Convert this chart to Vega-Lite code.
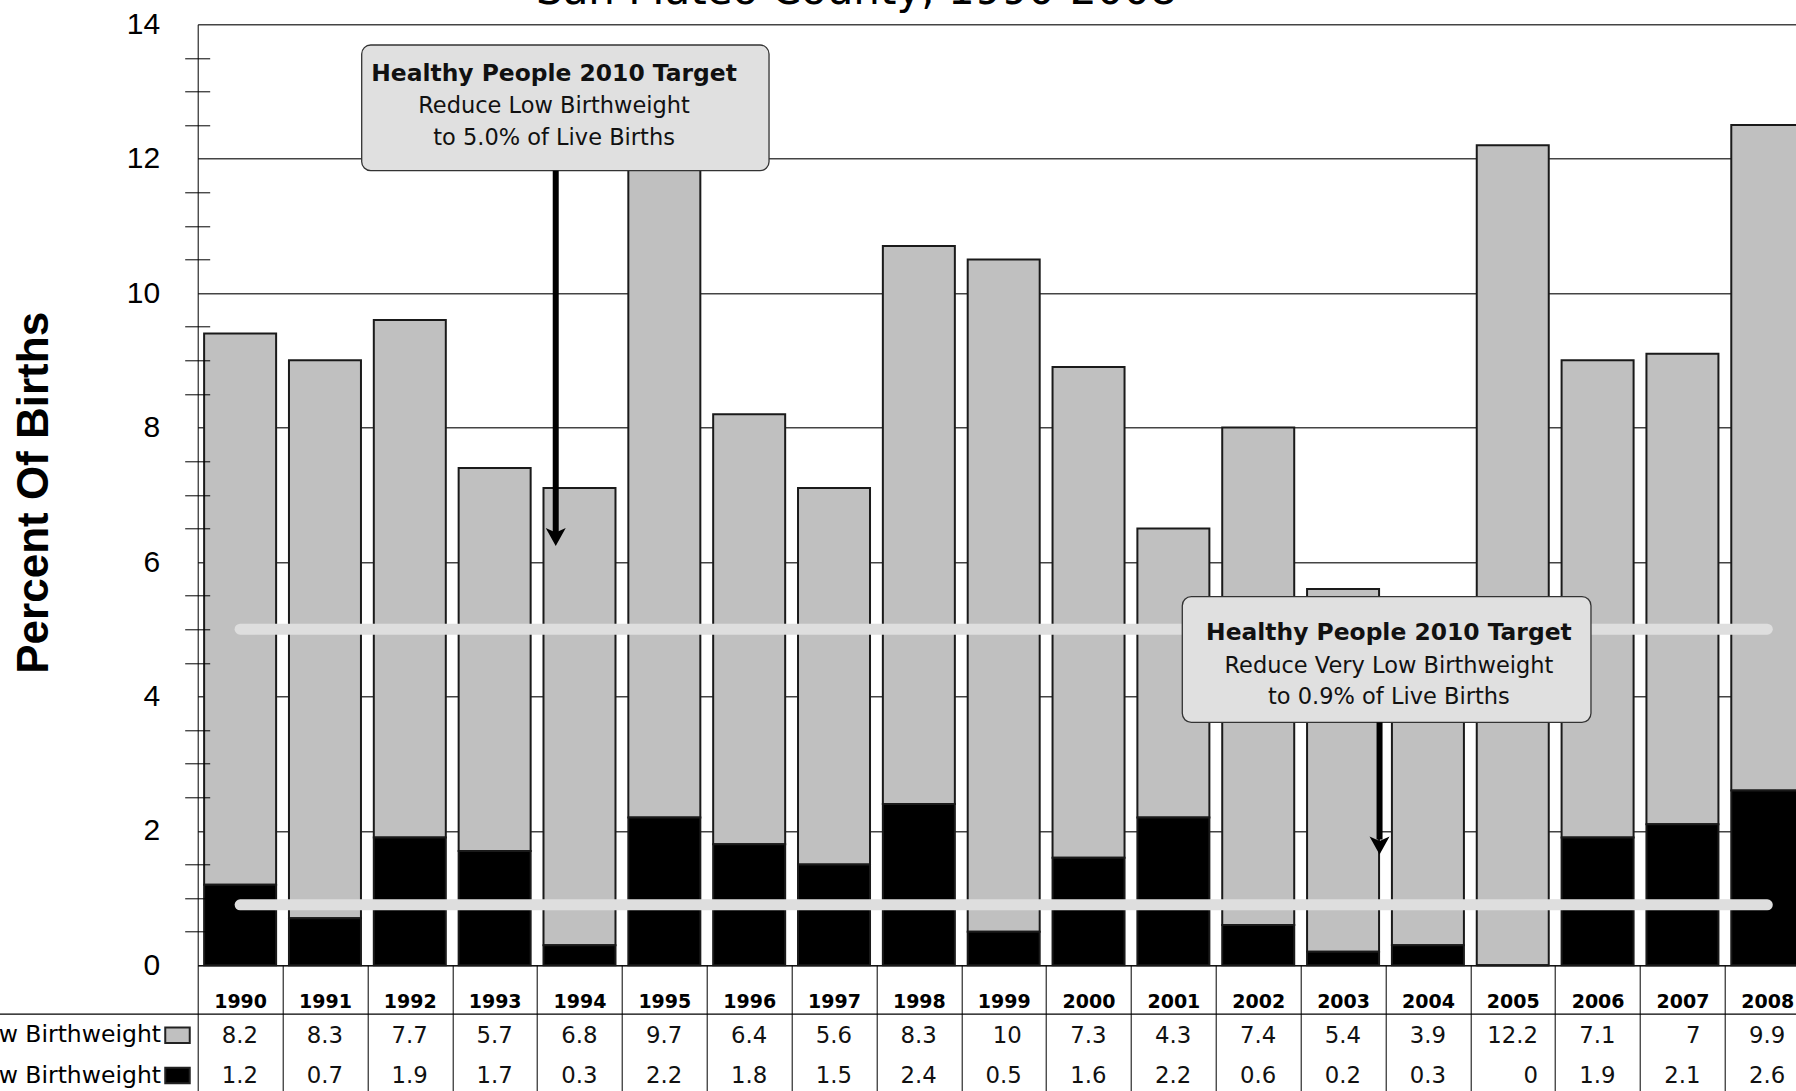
{
  "$schema": "https://vega.github.io/schema/vega-lite/v6.json",
  "autosize": {"type": "none"},
  "padding": {"left": 197.7, "top": 24.3, "right": -13.7, "bottom": 125.7},
  "width": 1612,
  "height": 941,
  "background": "white",
  "config": {"view": {"stroke": null}},
  "datasets": {
    "births": [
      {"year": 1990, "series": "Low Birthweight", "value": 8.2},
      {"year": 1990, "series": "Very Low Birthweight", "value": 1.2},
      {"year": 1991, "series": "Low Birthweight", "value": 8.3},
      {"year": 1991, "series": "Very Low Birthweight", "value": 0.7},
      {"year": 1992, "series": "Low Birthweight", "value": 7.7},
      {"year": 1992, "series": "Very Low Birthweight", "value": 1.9},
      {"year": 1993, "series": "Low Birthweight", "value": 5.7},
      {"year": 1993, "series": "Very Low Birthweight", "value": 1.7},
      {"year": 1994, "series": "Low Birthweight", "value": 6.8},
      {"year": 1994, "series": "Very Low Birthweight", "value": 0.3},
      {"year": 1995, "series": "Low Birthweight", "value": 9.7},
      {"year": 1995, "series": "Very Low Birthweight", "value": 2.2},
      {"year": 1996, "series": "Low Birthweight", "value": 6.4},
      {"year": 1996, "series": "Very Low Birthweight", "value": 1.8},
      {"year": 1997, "series": "Low Birthweight", "value": 5.6},
      {"year": 1997, "series": "Very Low Birthweight", "value": 1.5},
      {"year": 1998, "series": "Low Birthweight", "value": 8.3},
      {"year": 1998, "series": "Very Low Birthweight", "value": 2.4},
      {"year": 1999, "series": "Low Birthweight", "value": 10},
      {"year": 1999, "series": "Very Low Birthweight", "value": 0.5},
      {"year": 2000, "series": "Low Birthweight", "value": 7.3},
      {"year": 2000, "series": "Very Low Birthweight", "value": 1.6},
      {"year": 2001, "series": "Low Birthweight", "value": 4.3},
      {"year": 2001, "series": "Very Low Birthweight", "value": 2.2},
      {"year": 2002, "series": "Low Birthweight", "value": 7.4},
      {"year": 2002, "series": "Very Low Birthweight", "value": 0.6},
      {"year": 2003, "series": "Low Birthweight", "value": 5.4},
      {"year": 2003, "series": "Very Low Birthweight", "value": 0.2},
      {"year": 2004, "series": "Low Birthweight", "value": 3.9},
      {"year": 2004, "series": "Very Low Birthweight", "value": 0.3},
      {"year": 2005, "series": "Low Birthweight", "value": 12.2},
      {"year": 2005, "series": "Very Low Birthweight", "value": 0},
      {"year": 2006, "series": "Low Birthweight", "value": 7.1},
      {"year": 2006, "series": "Very Low Birthweight", "value": 1.9},
      {"year": 2007, "series": "Low Birthweight", "value": 7},
      {"year": 2007, "series": "Very Low Birthweight", "value": 2.1},
      {"year": 2008, "series": "Low Birthweight", "value": 9.9},
      {"year": 2008, "series": "Very Low Birthweight", "value": 2.6}
    ]
  },
  "data": {"name": "births"},
  "resolve": {"axis": {"x": "independent", "y": "independent"}},
  "layer": [
    {
      "mark": {"type": "bar", "width": 72, "stroke": "#1a1a1a", "strokeWidth": 2},
      "encoding": {
        "x": {
          "field": "year", "type": "quantitative",
          "scale": {"domain": [1989.5, 2008.5], "nice": false, "zero": false, "padding": 0},
          "axis": {
            "orient": "bottom", "title": null, "format": "d",
            "values": [1990,1991,1992,1993,1994,1995,1996,1997,1998,1999,2000,2001,2002,2003,2004,2005,2006,2007,2008],
            "ticks": false, "tickSize": 0, "grid": false,
            "domain": true, "domainColor": "#000", "domainWidth": 1,
            "labelFont": "DejaVu Sans", "labelFontWeight": "bold", "labelFontSize": 19, "labelColor": "#000",
            "labelBaseline": "alphabetic", "labelPadding": 42, "labelOverlap": false, "labelFlush": false
          }
        },
        "y": {
          "field": "value", "type": "quantitative", "stack": "zero",
          "scale": {"domain": [0, 14], "nice": false, "zero": true, "padding": 0},
          "axis": {
            "orient": "left", "values": [0,2,4,6,8,10,12,14],
            "title": "Percent Of Births", "titleFont": "Liberation Sans", "titleFontSize": 44, "titleFontWeight": "bold",
            "titleColor": "#000", "titleAngle": 270, "titleX": -150.7, "titleY": 468, "titleBaseline": "alphabetic", "titleAlign": "center",
            "ticks": false, "tickSize": 0,
            "labelFont": "Liberation Sans", "labelFontSize": 30, "labelColor": "#000", "labelPadding": 38, "labelFlush": false,
            "grid": true, "gridColor": "#444", "gridWidth": 1.4,
            "domain": true, "domainColor": "#000", "domainWidth": 1
          }
        },
        "color": {
          "field": "series", "type": "nominal",
          "scale": {"domain": ["Low Birthweight", "Very Low Birthweight"], "range": ["#c0c0c0", "#000000"]},
          "legend": {
            "title": null, "orient": "none", "legendX": -33.7, "legendY": 997.4, "direction": "vertical",
            "symbolType": "M-1,-0.63H1V0.63H-1Z", "symbolSize": 600, "symbolStrokeColor": "#222", "symbolStrokeWidth": 2, "symbolOpacity": 1,
            "labelFont": "DejaVu Sans", "labelFontSize": 23.5, "labelColor": "#000", "labelAlign": "right", "labelOffset": -30,
            "labelLimit": 1000, "rowPadding": 14.3, "padding": 0, "offset": 0
          }
        },
        "order": {"field": "series", "sort": "descending"}
      }
    },
    {
      "data": {"values": [{"target": 5.0}, {"target": 0.9}]},
      "mark": {"type": "rule", "strokeWidth": 11, "strokeCap": "round", "color": "#dedede"},
      "encoding": {
        "y": {
          "field": "target", "type": "quantitative",
          "axis": {
            "orient": "left", "title": null, "offset": -12,
            "values": [0.5,1,1.5,2.5,3,3.5,4.5,5,5.5,6.5,7,7.5,8.5,9,9.5,10.5,11,11.5,12.5,13,13.5],
            "ticks": true, "tickSize": 25, "tickColor": "#000", "tickWidth": 1,
            "labels": false, "domain": false, "grid": false, "zindex": 1
          }
        },
        "x": {
          "datum": 1990, "type": "quantitative",
          "axis": {
            "orient": "bottom", "title": null,
            "values": [1989.5,1990.5,1991.5,1992.5,1993.5,1994.5,1995.5,1996.5,1997.5,1998.5,1999.5,2000.5,2001.5,2002.5,2003.5,2004.5,2005.5,2006.5,2007.5,2008.5],
            "ticks": true, "tickSize": 140, "tickColor": "#000", "tickWidth": 1,
            "labels": false, "domain": false, "grid": false
          }
        },
        "x2": {"datum": 2008}
      }
    },
    {
      "data": {"values": [{}]},
      "mark": {"type": "text", "text": "San Mateo County, 1990-2008", "font": "DejaVu Sans", "fontSize": 42, "align": "left", "baseline": "alphabetic", "color": "#000"},
      "encoding": {
        "x": {"datum": 1993.487, "type": "quantitative", "axis": null},
        "y": {"datum": 14.295, "type": "quantitative", "axis": null}
      }
    },
    {
      "data": {"values": [{}]},
      "mark": {"type": "rect", "cornerRadius": 9, "fill": "#e0e0e0", "stroke": "#333", "strokeWidth": 1.3},
      "encoding": {
        "x": {"datum": 1991.433, "type": "quantitative", "axis": null},
        "x2": {"datum": 1996.234},
        "y": {"datum": 13.692, "type": "quantitative", "axis": null},
        "y2": {"datum": 11.822}
      }
    },
    {
      "data": {"values": [{}]},
      "mark": {"type": "rect", "cornerRadius": 9, "fill": "#e0e0e0", "stroke": "#333", "strokeWidth": 1.3},
      "encoding": {
        "x": {"datum": 2001.105, "type": "quantitative", "axis": null},
        "x2": {"datum": 2005.922},
        "y": {"datum": 5.484, "type": "quantitative", "axis": null},
        "y2": {"datum": 3.615}
      }
    },
    {
      "data": {"values": [{}]},
      "mark": {"type": "text", "text": "Healthy People 2010 Target", "font": "DejaVu Sans", "fontWeight": "bold", "fontSize": 23.4, "align": "center", "baseline": "alphabetic", "color": "#111"},
      "encoding": {
        "x": {"datum": 1993.70, "type": "quantitative", "axis": null},
        "y": {"datum": 13.149, "type": "quantitative", "axis": null}
      }
    },
    {
      "data": {"values": [{}]},
      "mark": {"type": "text", "text": ["Reduce Low Birthweight", "to 5.0% of Live Births"], "lineHeight": 32, "font": "DejaVu Sans", "fontSize": 22.5, "align": "center", "baseline": "alphabetic", "color": "#111"},
      "encoding": {
        "x": {"datum": 1993.70, "type": "quantitative", "axis": null},
        "y": {"datum": 12.677, "type": "quantitative", "axis": null}
      }
    },
    {
      "data": {"values": [{}]},
      "mark": {"type": "text", "text": "Healthy People 2010 Target", "font": "DejaVu Sans", "fontWeight": "bold", "fontSize": 23.4, "align": "center", "baseline": "alphabetic", "color": "#111"},
      "encoding": {
        "x": {"datum": 2003.54, "type": "quantitative", "axis": null},
        "y": {"datum": 4.834, "type": "quantitative", "axis": null}
      }
    },
    {
      "data": {"values": [{}]},
      "mark": {"type": "text", "text": ["Reduce Very Low Birthweight", "to 0.9% of Live Births"], "lineHeight": 31.7, "font": "DejaVu Sans", "fontSize": 22.5, "align": "center", "baseline": "alphabetic", "color": "#111"},
      "encoding": {
        "x": {"datum": 2003.54, "type": "quantitative", "axis": null},
        "y": {"datum": 4.353, "type": "quantitative", "axis": null}
      }
    },
    {
      "data": {"values": [{}]},
      "mark": {"type": "rule", "strokeWidth": 6, "color": "#000"},
      "encoding": {
        "x": {"datum": 1993.72, "type": "quantitative", "axis": null},
        "y": {"datum": 11.822, "type": "quantitative", "axis": null},
        "y2": {"datum": 6.357}
      }
    },
    {
      "data": {"values": [{}]},
      "mark": {"type": "point", "shape": "M0,1L-1,-0.8L0,-0.35L1,-0.8Z", "size": 400, "filled": true, "color": "#000", "opacity": 1, "strokeWidth": 0},
      "encoding": {
        "x": {"datum": 1993.72, "type": "quantitative", "axis": null},
        "y": {"datum": 6.387, "type": "quantitative", "axis": null}
      }
    },
    {
      "data": {"values": [{}]},
      "mark": {"type": "rule", "strokeWidth": 6, "color": "#000"},
      "encoding": {
        "x": {"datum": 2003.43, "type": "quantitative", "axis": null},
        "y": {"datum": 3.615, "type": "quantitative", "axis": null},
        "y2": {"datum": 1.871}
      }
    },
    {
      "data": {"values": [{}]},
      "mark": {"type": "point", "shape": "M0,1L-1,-0.8L0,-0.35L1,-0.8Z", "size": 400, "filled": true, "color": "#000", "opacity": 1, "strokeWidth": 0},
      "encoding": {
        "x": {"datum": 2003.43, "type": "quantitative", "axis": null},
        "y": {"datum": 1.797, "type": "quantitative", "axis": null}
      }
    },
    {
      "data": {"values": [{}]},
      "mark": {"type": "rule", "strokeWidth": 1.3, "color": "#000"},
      "encoding": {
        "x": {"datum": 1986, "type": "quantitative", "axis": null},
        "x2": {"datum": 2010},
        "y": {"datum": -0.727, "type": "quantitative", "axis": null}
      }
    },
    {
      "transform": [{"filter": "datum.series == 'Low Birthweight' && datum.year != 2005"}],
      "mark": {"type": "text", "align": "right", "baseline": "alphabetic", "dx": 18, "font": "DejaVu Sans", "fontSize": 22.8, "color": "#111"},
      "encoding": {
        "x": {"field": "year", "type": "quantitative", "axis": null},
        "y": {"datum": -1.156, "type": "quantitative", "axis": null},
        "text": {"field": "value", "type": "nominal"}
      }
    },
    {
      "transform": [{"filter": "datum.series == 'Low Birthweight' && datum.year == 2005"}],
      "mark": {"type": "text", "align": "right", "baseline": "alphabetic", "dx": 25.2, "font": "DejaVu Sans", "fontSize": 22.8, "color": "#111"},
      "encoding": {
        "x": {"field": "year", "type": "quantitative", "axis": null},
        "y": {"datum": -1.156, "type": "quantitative", "axis": null},
        "text": {"field": "value", "type": "nominal"}
      }
    },
    {
      "transform": [{"filter": "datum.series == 'Very Low Birthweight' && datum.year != 2005"}],
      "mark": {"type": "text", "align": "right", "baseline": "alphabetic", "dx": 18, "font": "DejaVu Sans", "fontSize": 22.8, "color": "#111"},
      "encoding": {
        "x": {"field": "year", "type": "quantitative", "axis": null},
        "y": {"datum": -1.755, "type": "quantitative", "axis": null},
        "text": {"field": "value", "type": "nominal"}
      }
    },
    {
      "transform": [{"filter": "datum.series == 'Very Low Birthweight' && datum.year == 2005"}],
      "mark": {"type": "text", "align": "right", "baseline": "alphabetic", "dx": 25.2, "font": "DejaVu Sans", "fontSize": 22.8, "color": "#111"},
      "encoding": {
        "x": {"field": "year", "type": "quantitative", "axis": null},
        "y": {"datum": -1.755, "type": "quantitative", "axis": null},
        "text": {"field": "value", "type": "nominal"}
      }
    }
  ]
}
